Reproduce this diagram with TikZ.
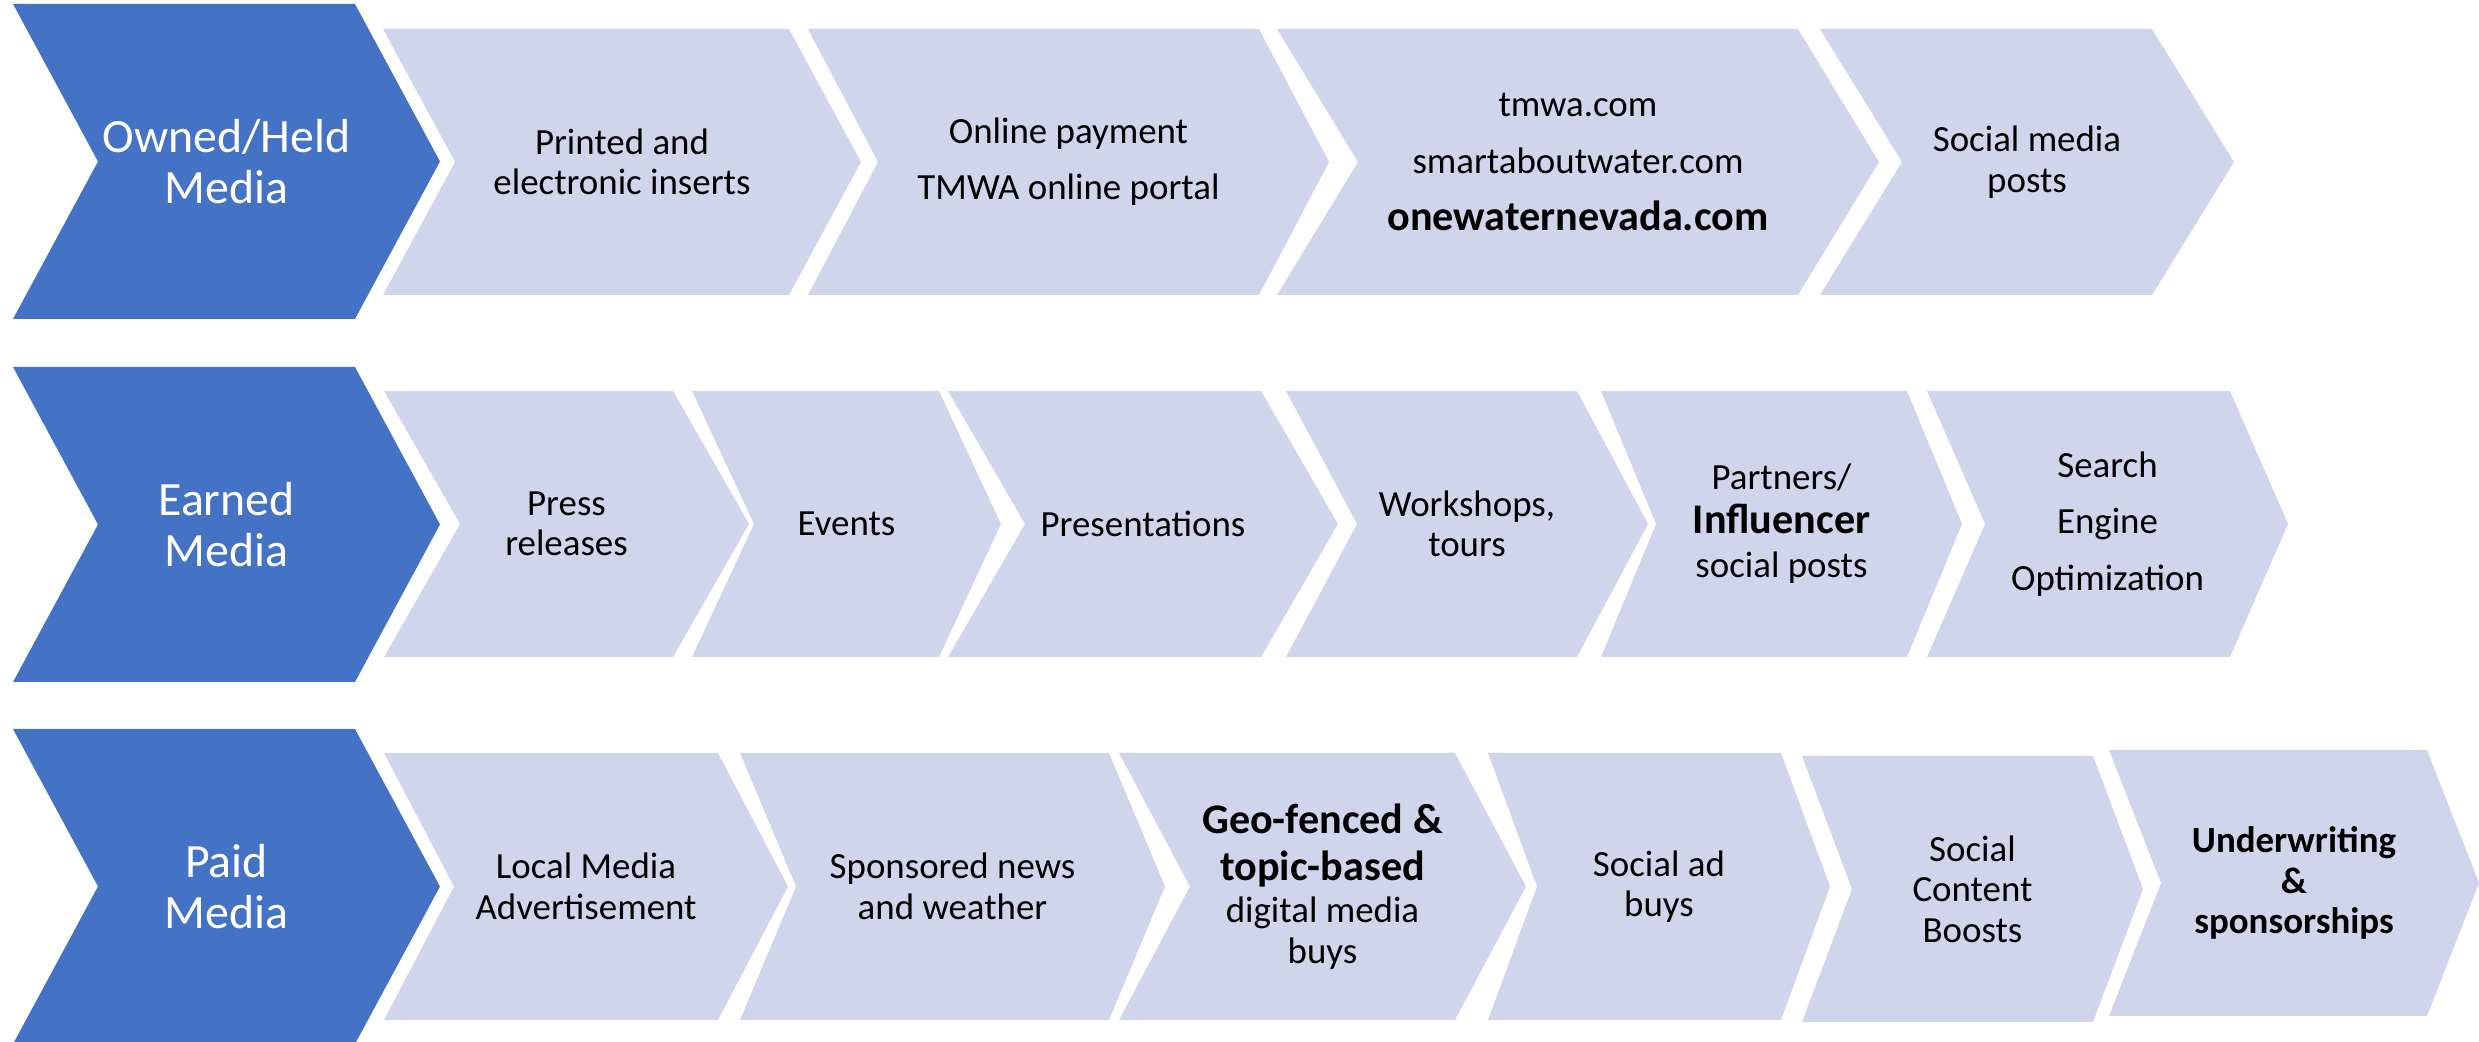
\documentclass[tikz,border=0pt]{standalone}
\usepackage{fontspec}
\setmainfont{Carlito}
\definecolor{headblue}{HTML}{4472C4}
\definecolor{itemblue}{HTML}{CFD5EA}
\tikzset{
    head/.style={fill=headblue},
    item/.style={fill=itemblue},
    head text/.style={text=white,align=center,inner sep=0pt,font=\fontsize{13.6}{14.5}\selectfont},
    item text/.style={text=black,align=center,inner sep=0pt,font=\fontsize{10.5}{11.5}\selectfont},
}
\newcommand{\bigbold}[1]{{\fontsize{12}{13}\selectfont\bfseries #1}}
% chevron: style, left x, top right x, depth, top y, bottom y, name, text
\newcommand{\chev}[8]{%
    \fill[#1] (#2,#5) -- (#3,#5) -- ({#3+#4},{(#5+#6)/2}) -- (#3,#6) -- (#2,#6) -- ({#2+#4},{(#5+#6)/2}) -- cycle;
    \node[#1 text] (#7) at ({(#2+#3+#4)/2},{(#5+#6)/2}) {#8};}
\begin{document}
\begin{tikzpicture}[x=0.1mm,y=-0.1mm]
    \useasboundingbox (0,0) rectangle (2479,1042);
    %% media types
    \chev{head}{13}{355}{85}{4}{319}{owned}{Owned/Held\\Media}
    \chev{head}{13}{355}{85}{367}{682}{earned}{Earned\\Media}
    \chev{head}{13}{355}{85}{729}{1044}{paid}{Paid\\Media}
    %% owned
    \foreach \xl/\xr/\d/\name/\txt in {383/789/72/printed/{Printed and\\electronic inserts},
        808/1259/70/payment/{Online payment\\[4.5pt]TMWA online portal},
        1277/1798/81/websites/{tmwa.com\\[4.7pt]smartaboutwater.com\\[4.7pt]\bigbold{onewaternevada.com}},
        1820/2152/82/social/{Social media\\posts}}
        \chev{item}{\xl}{\xr}{\d}{29}{295}{\name}{\txt};
    %% earned
    \foreach \xl/\xr/\d/\name/\txt in {384/673/76/press/{Press\\releases},
        692/939/62/events/{Events},
        948/1261/77/presentations/{Presentations},
        1286/1577/71/workshops/{Workshops,\\tours},
        1601/1907/55/partners/{Partners/\\[1pt]\bigbold{Influencer}\\[1pt]social posts},
        1927/2230/58/seo/{Search\\[4.5pt]Engine\\[4.5pt]Optimization}}
        \chev{item}{\xl}{\xr}{\d}{391}{657}{\name}{\txt};
    %% paid
    \foreach \xl/\xr/\d/\yt/\yb/\name/\txt in {384/718/70/753/1020/local/{Local Media\\Advertisement},
        740/1109/56/753/1020/sponsored/{Sponsored news\\and weather},
        1119/1455/71/753/1020/geofenced/{\bigbold{Geo-fenced \&}\\[2pt]\bigbold{topic-based}\\[0.5pt]digital media\\buys},
        1488/1781/49/753/1020/adbuys/{Social ad\\buys},
        1802/2093/50/756/1022/boosts/{Social\\Content\\Boosts},
        2109/2427/52/750/1016/underwriting/{\textbf{Underwriting}\\\textbf{\&}\\\textbf{sponsorships}}}
        \chev{item}{\xl}{\xr}{\d}{\yt}{\yb}{\name}{\txt};
\end{tikzpicture}
\end{document}
